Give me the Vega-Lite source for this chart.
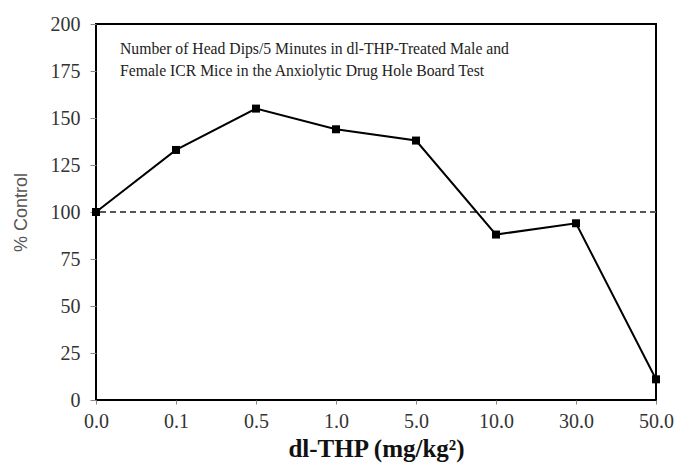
{
  "$schema": "https://vega.github.io/schema/vega-lite/v6.json",
  "autosize": {"type": "none"},
  "padding": {"left": 96, "top": 24, "right": 19, "bottom": 66},
  "width": 560,
  "height": 376,
  "background": "white",
  "config": {
    "view": {"stroke": "black", "strokeWidth": 2},
    "font": "Liberation Serif"
  },
  "data": {
    "values": [
      {"dose": "0.0", "pct": 100},
      {"dose": "0.1", "pct": 133},
      {"dose": "0.5", "pct": 155},
      {"dose": "1.0", "pct": 144},
      {"dose": "5.0", "pct": 138},
      {"dose": "10.0", "pct": 88},
      {"dose": "30.0", "pct": 94},
      {"dose": "50.0", "pct": 11}
    ]
  },
  "encoding": {
    "x": {
      "field": "dose",
      "type": "ordinal",
      "sort": null,
      "scale": {"type": "point", "padding": 0},
      "axis": {
        "title": "dl-THP (mg/kg²)",
        "titleFont": "Liberation Serif",
        "titleFontSize": 25,
        "titleFontWeight": "bold",
        "titleColor": "#111",
        "titlePadding": 5,
        "labelFont": "Liberation Serif",
        "labelFontSize": 20,
        "labelColor": "#333",
        "labelAngle": 0,
        "labelPadding": 7,
        "tickSize": 4,
        "tickColor": "#888",
        "domain": false,
        "grid": false
      }
    }
  },
  "layer": [
    {
      "mark": {"type": "rule", "color": "#555", "strokeWidth": 2, "strokeDash": [6, 4]},
      "encoding": {"y": {"datum": 100, "type": "quantitative"}, "x": null}
    },
    {
      "mark": {"type": "line", "color": "black", "strokeWidth": 2},
      "encoding": {
        "y": {
          "field": "pct",
          "type": "quantitative",
          "scale": {"domain": [0, 200], "nice": false},
          "axis": {
            "title": "% Control",
            "titleFont": "Liberation Sans",
            "titleFontSize": 18,
            "titleFontWeight": "normal",
            "titleColor": "#555",
            "titlePadding": 20,
            "values": [0, 25, 50, 75, 100, 125, 150, 175, 200],
            "labelFont": "Liberation Serif",
            "labelFontSize": 20,
            "labelColor": "#333",
            "labelPadding": 10,
            "tickSize": 6,
            "tickColor": "#888",
            "domain": false,
            "grid": false
          }
        }
      }
    },
    {
      "mark": {"type": "square", "color": "black", "size": 64, "opacity": 1, "filled": true},
      "encoding": {"y": {"field": "pct", "type": "quantitative"}}
    },
    {
      "data": {"values": [{"label": "Number of Head Dips/5 Minutes in dl-THP-Treated Male and\nFemale ICR Mice in the Anxiolytic Drug Hole Board Test"}]},
      "mark": {"type": "text", "align": "left", "baseline": "alphabetic", "font": "Liberation Serif", "fontSize": 15.7, "lineHeight": 22, "color": "#222", "dx": 24, "lineBreak": "\n"},
      "encoding": {
        "x": {"datum": "0.0", "type": "ordinal"},
        "y": {"datum": 184, "type": "quantitative"},
        "text": {"field": "label"}
      }
    }
  ]
}
